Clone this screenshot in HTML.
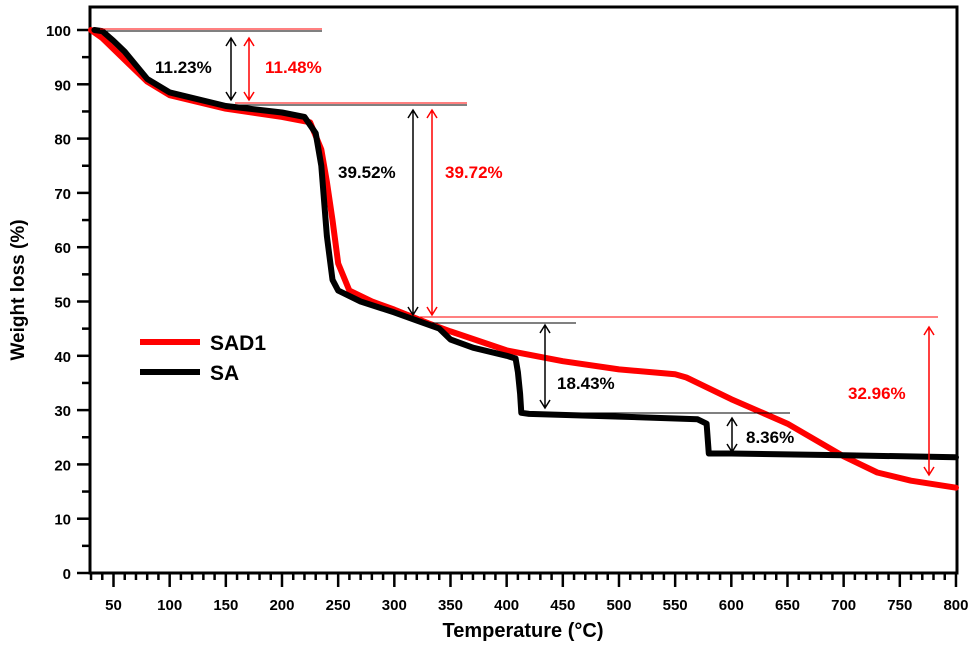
<!DOCTYPE html>
<html><head><meta charset="utf-8"><style>
body{margin:0;background:#fff}
svg text{font-family:"Liberation Sans",Arial,sans-serif;font-weight:bold}
</style></head><body>
<svg id="c" width="977" height="646" viewBox="0 0 977 646">
<g id="axes"></g><g id="series"></g><g id="ann"></g>
</svg>
<script>
const xTicks=[50,100,150,200,250,300,350,400,450,500,550,600,650,700,750,800];
const yTicks=[0,10,20,30,40,50,60,70,80,90,100];
const saT=[33,40,50,60,80,100,150,200,220,230,235,240,245,250,270,300,320,340,350,370,400,408,410,412,413,420,500,570,578,580,600,700,800];
const saW=[100,99.8,98,96,91,88.5,86,84.8,84,81,75,62,54,52,50,48,46.5,45,43,41.5,40,39.5,37,33,29.5,29.3,28.8,28.3,27.5,22,22,21.7,21.3];
const sadT=[30,40,60,80,100,150,200,225,235,240,245,250,260,280,300,330,350,400,450,500,550,560,600,650,700,730,760,800];
const sadW=[100,98.5,94.5,90.5,88,85.5,84,83,78,72,65,57,52,50,48.5,46,44.5,41,39,37.5,36.6,36,32,27.5,21.5,18.5,17,15.7];
const X=t=>113.5+(t-50)*1.1233, Y=w=>573-w*5.43;
const NS="http://www.w3.org/2000/svg";
function mk(tag,attrs,parent,txt){const e=document.createElementNS(NS,tag);for(const k in attrs)e.setAttribute(k,attrs[k]);if(txt!=null)e.textContent=txt;document.getElementById(parent).appendChild(e);return e;}
let e;
e=mk('path',{d:'M90 7 H957 V573 H90 Z',fill:'none',stroke:'#000','stroke-width':3},'axes');


for(let t=30;t<=800;t+=10){const maj=t%50===0;e=mk('line',{x1:X(t),x2:X(t),y1:573,y2:maj?587:580,stroke:'#000','stroke-width':2.5},'axes');

}
xTicks.forEach(t=>{e=mk('text',{x:X(t),y:610,'text-anchor':'middle','font-size':15},'axes',t);

});
for(let w=0;w<=100;w+=5){const maj=w%10===0;e=mk('line',{x1:maj?77:82,x2:90,y1:Y(w),y2:Y(w),stroke:'#000','stroke-width':2.5},'axes');

}
yTicks.forEach(w=>{e=mk('text',{x:71,y:Y(w)+6,'text-anchor':'end','font-size':15},'axes',w);

});
e=mk('text',{x:523,y:637,'text-anchor':'middle','font-size':20},'axes','Temperature (°C)');


e=mk('text',{x:24,y:290,'text-anchor':'middle','font-size':19,transform:'rotate(-90 24 290)'},'axes','Weight loss (%)');


function line(T,W,col,name){const d=T.map((t,i)=>(i?'L':'M')+X(t).toFixed(1)+' '+Y(W[i]).toFixed(1)).join(' ');
const p=mk('path',{d:d,fill:'none',stroke:col,'stroke-width':6,'stroke-linejoin':'round','stroke-linecap':'round'},'series');

}
line(sadT,sadW,'#ff0000','series-sad1');
line(saT,saW,'#000','series-sa');
// annotations
const hl=[[100,322,31,'#000'],[100,322,29,'#f00'],[235,467,105,'#000'],[235,467,103,'#f00'],[420,576,323,'#000'],[420,938,317,'#f00'],[545,790,413,'#000']];
hl.forEach(h=>{e=mk('line',{x1:h[0],x2:h[1],y1:h[2],y2:h[2],stroke:h[3],'stroke-width':1},'ann');

});
const ar=[[231,38,100,'#000'],[249,38,100,'#f00'],[413,110,315,'#000'],[432,110,315,'#f00'],[545,325,408,'#000'],[732,418,452,'#000'],[929,327,475,'#f00']];
ar.forEach(a=>{const[x,y1,y2,c]=a;e=mk('path',{d:`M${x} ${y1} V${y2} M${x-5} ${y1+8} L${x} ${y1} L${x+5} ${y1+8} M${x-5} ${y2-8} L${x} ${y2} L${x+5} ${y2-8}`,fill:'none',stroke:c,'stroke-width':1.5},'ann');

});
const lb=[[155,73,'11.23%','#000'],[265,73,'11.48%','#f00'],[338,178,'39.52%','#000'],[445,178,'39.72%','#f00'],[557,389,'18.43%','#000'],[746,443,'8.36%','#000'],[848,399,'32.96%','#f00']];
lb.forEach(l=>{e=mk('text',{x:l[0],y:l[1],'font-size':17,fill:l[3]},'ann',l[2]);

});
e=mk('line',{x1:140,x2:200,y1:342,y2:342,stroke:'#f00','stroke-width':6},'ann');


e=mk('text',{x:210,y:350,'font-size':21},'ann','SAD1');


e=mk('line',{x1:140,x2:200,y1:372,y2:372,stroke:'#000','stroke-width':6},'ann');


e=mk('text',{x:210,y:380,'font-size':21},'ann','SA');


</script>
</body></html>
